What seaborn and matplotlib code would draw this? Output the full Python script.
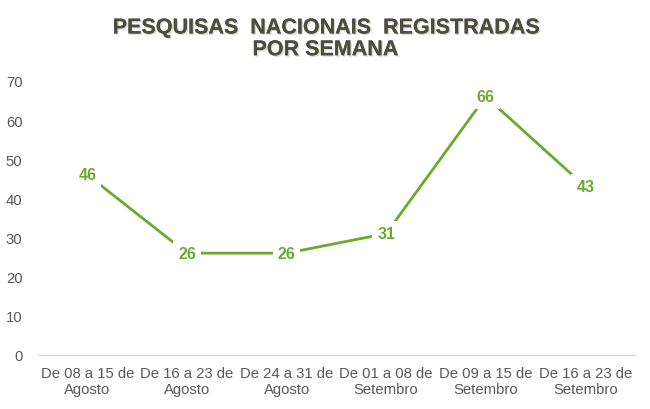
import matplotlib
matplotlib.use("Agg")
import matplotlib.pyplot as plt
import matplotlib.patheffects as pe
import seaborn as sns
import pandas as pd

categories = ["De 08 a 15 de\nAgosto", "De 16 a 23 de\nAgosto", "De 24 a 31 de\nAgosto",
              "De 01 a 08 de\nSetembro", "De 09 a 15 de\nSetembro", "De 16 a 23 de\nSetembro"]
values = [46, 26, 26, 31, 66, 43]
yticks = [0, 10, 20, 30, 40, 50, 60, 70]

sns.set_theme(style="white")
plt.rcParams['font.family'] = ['Liberation Sans', 'DejaVu Sans']

green = "#6aaa2f"
df = pd.DataFrame({"cat": categories, "val": values})

fig = plt.figure(figsize=(6.5, 4.1), dpi=100)
ax = fig.add_axes([0.058, 0.132, 0.919, 0.668])
sns.lineplot(data=df, x="cat", y="val", ax=ax, color=green, linewidth=2.0, sort=False)
for i, v in enumerate(values):
    ax.text(i, v, str(v), ha="center", va="center", color=green, fontsize=11.5, fontweight="bold",
            bbox=dict(boxstyle="square,pad=0.3", fc="white", ec="none"))
ax.set_xlim(-0.5, len(categories) - 0.5)
ax.set_ylim(0, 70)
ax.set_yticks(yticks)
ax.set_xlabel("")
ax.set_ylabel("")
for s in ["top", "right", "left"]:
    ax.spines[s].set_visible(False)
ax.spines["bottom"].set_color("#d9d9d9")
ax.spines["bottom"].set_linewidth(1)
ax.tick_params(axis="both", length=0, labelsize=10.7, colors="#595959", pad=8)
ax.tick_params(axis="y", pad=11)
fig.text(0.5, 0.955, "PESQUISAS  NACIONAIS  REGISTRADAS\nPOR SEMANA", ha="center", va="top",
         fontsize=15.5, fontweight="bold", color="#4d4d3d", linespacing=1.05,
         path_effects=[pe.withSimplePatchShadow(offset=(1, -1), shadow_rgbFace="#bbbbbb", alpha=0.6), pe.Normal()])
fig.savefig("out.png", dpi=100, facecolor="white")
